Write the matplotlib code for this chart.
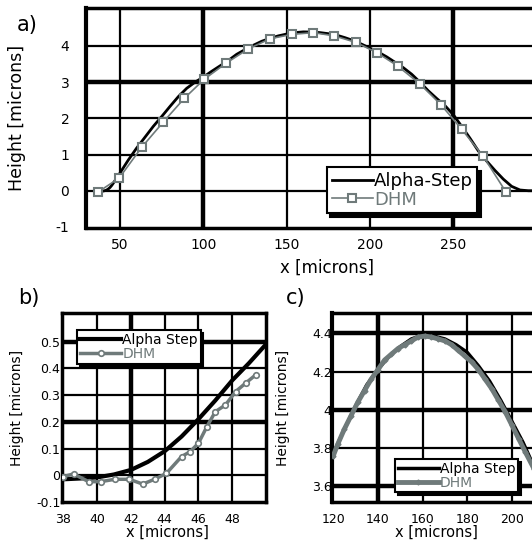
import matplotlib
matplotlib.use("Agg")
import matplotlib.pyplot as plt

plt.rcParams['axes.unicode_minus'] = False

# Alpha-Step profile (one scan, finer sampling near the left edge)
alpha_x = [35, 36, 37, 38, 39, 40, 41, 42, 43, 44, 45, 46, 47, 48, 49, 50,
           55, 60, 65, 70, 75, 80, 85, 90, 95, 100, 105, 110, 115, 120, 125,
           130, 135, 140, 145, 150, 155, 160, 165, 170, 175, 180, 185, 190,
           195, 200, 205, 210, 215, 220, 225, 230, 235, 240, 245, 250, 255,
           260, 265, 270, 275, 280, 285, 290, 295, 300, 320]
alpha_h = [-0.02, -0.02, -0.02, -0.015, -0.012, -0.008, 0.003, 0.02, 0.05,
           0.09, 0.145, 0.21, 0.28, 0.355, 0.42, 0.49,
           0.85, 1.18, 1.48, 1.78, 2.05, 2.33, 2.6, 2.83, 3.0, 3.14, 3.3,
           3.45, 3.6, 3.77, 3.9, 4.02, 4.13, 4.21, 4.28, 4.33, 4.37, 4.39,
           4.385, 4.37, 4.34, 4.3, 4.23, 4.15, 4.05, 3.94, 3.83, 3.7, 3.55,
           3.4, 3.22, 3.0, 2.76, 2.55, 2.35, 2.1, 1.78, 1.45, 1.1, 0.82,
           0.56, 0.32, 0.12, 0.02, 0.0, 0.0, 0.0]

# DHM, whole profile (panel a)
dhm_a_x = [37, 49.5, 63, 76, 88.5, 100.5, 113.5, 127, 140, 153, 166, 178.5,
           191.5, 204, 216.5, 230, 242.5, 255, 268, 281.5]
dhm_a_h = [-0.03, 0.35, 1.2, 1.9, 2.55, 3.08, 3.52, 3.92, 4.2, 4.32, 4.37,
           4.28, 4.1, 3.82, 3.45, 2.95, 2.38, 1.7, 0.95, -0.03]

# DHM, left foot (panel b)
dhm_b_x = [38.0, 38.6, 39.5, 40.2, 41.05, 41.9, 42.7, 43.4, 44.1, 45.0, 45.5,
           46.0, 46.5, 47.0, 47.6, 48.2, 48.8, 49.4]
dhm_b_h = [-0.005, 0.005, -0.024, -0.024, -0.015, -0.015, -0.033, -0.015,
           0.007, 0.07, 0.088, 0.12, 0.182, 0.238, 0.263, 0.313, 0.345, 0.376]

# DHM, top of the profile (panel c)
dhm_c_x = [120, 122, 125, 128, 131, 134, 137, 140, 143, 146, 149, 152, 155,
           158, 161, 164, 167, 170, 173, 176, 179, 182, 185, 188, 191, 194,
           197, 200, 203, 206, 210]
dhm_c_h = [3.76, 3.82, 3.9, 3.97, 4.04, 4.1, 4.16, 4.21, 4.26, 4.29, 4.32,
           4.34, 4.36, 4.38, 4.385, 4.38, 4.37, 4.36, 4.34, 4.31, 4.28, 4.25,
           4.21, 4.16, 4.11, 4.05, 3.99, 3.92, 3.85, 3.78, 3.69]

gray = '#6f7a7a'
W, H = 532, 546


def px_axes(left, top, right, bottom):
    return fig.add_axes([left / W, (H - bottom) / H, (right - left) / W,
                         (bottom - top) / H])


def draw_grid(ax, xs, ys, thick_x, thick_y, lw=1.6, lw_thick=3.2):
    for x in xs:
        ax.axvline(x, color='k', lw=lw_thick if x in thick_x else lw, zorder=1)
    for y in ys:
        ax.axhline(y, color='k', lw=lw_thick if y in thick_y else lw, zorder=1)


def style_legend(leg, lw=1.5):
    frame = leg.get_frame()
    frame.set_edgecolor('k')
    frame.set_linewidth(lw)
    frame.set_facecolor('white')
    frame.set_alpha(1)


fig = plt.figure(figsize=(W / 100, H / 100), dpi=100)

# ---- panel a ----
ax = px_axes(86, 8, 568, 228)
ax.set_xlim(29.6, 318.8)
ax.set_ylim(-1.03, 5.05)
draw_grid(ax, [50, 100, 150, 200, 250], [0, 1, 2, 3, 4],
          [100, 250], [3])
ax.plot(alpha_x, alpha_h, color='k', lw=2, label='Alpha-Step', zorder=3)
ax.plot(dhm_a_x, dhm_a_h, color=gray, lw=1.2, marker='s', ms=5.5,
        mfc='white', mec=gray, mew=1.5, label='DHM', zorder=4)
ax.set_xticks([50, 100, 150, 200, 250])
ax.set_yticks([-1, 0, 1, 2, 3, 4])
ax.tick_params(length=0, labelsize=10)
ax.tick_params(axis='y', pad=12)
ax.tick_params(axis='x', pad=7)
ax.set_xlabel('x [microns]', fontsize=12)
ax.set_ylabel('Height [microns]', fontsize=12.5)
ax.xaxis.set_label_coords(0.5, -0.14)
ax.yaxis.set_label_coords(-0.125, 0.5)
for s, w in [('left', 3), ('bottom', 2.5), ('top', 2.5), ('right', 2.5)]:
    ax.spines[s].set_linewidth(w)
leg = ax.legend(loc='lower left', bbox_to_anchor=(0.5, 0.067), fontsize=13,
                handlelength=2.3, handletextpad=0.05, borderpad=0.25,
                labelspacing=0.05, fancybox=False, borderaxespad=0,
                shadow={'color': 'k', 'alpha': 1, 'ox': 2.5, 'oy': -2.5},
                labelcolor='linecolor')
style_legend(leg)
fig.text(27 / W, 1 - 25 / H, 'a)', fontsize=15, ha='center', va='center')

# ---- panel b ----
ax = px_axes(61.7, 313, 266, 502)
ax.set_xlim(37.9, 50)
ax.set_ylim(-0.1, 0.607)
draw_grid(ax, [40, 42, 44, 46, 48], [0, 0.1, 0.2, 0.3, 0.4, 0.5],
          [42], [0.2, 0.5])
ax.plot(alpha_x, alpha_h, color='k', lw=3, label='Alpha Step', zorder=3)
ax.plot(dhm_b_x, dhm_b_h, color=gray, lw=2.5, marker='o', ms=4,
        mfc='white', mec=gray, mew=1.2, label='DHM', zorder=4)
ax.set_xticks([38, 40, 42, 44, 46, 48])
ax.set_yticks([-0.1, 0, 0.1, 0.2, 0.3, 0.4, 0.5])
ax.set_yticklabels(['-0.1', '0', '0.1', '0.2', '0.3', '0.4', '0.5'])
ax.tick_params(length=0, labelsize=9)
ax.tick_params(axis='y', pad=1)
ax.tick_params(axis='x', pad=8)
ax.set_xlabel('x [microns]', fontsize=10.5)
ax.set_ylabel('Height [microns]', fontsize=10)
ax.xaxis.set_label_coords(0.52, -0.12)
ax.yaxis.set_label_coords(-0.185, 0.5)
for s in ax.spines.values():
    s.set_linewidth(2.5)
leg = ax.legend(loc='upper left', bbox_to_anchor=(0.075, 0.91), fontsize=10,
                handlelength=3.0, handletextpad=0.05, borderpad=0.2,
                labelspacing=0.0, fancybox=False, borderaxespad=0,
                shadow={'color': 'k', 'alpha': 1, 'ox': 2, 'oy': -2},
                labelcolor='linecolor')
style_legend(leg)
fig.text(29 / W, 1 - 298 / H, 'b)', fontsize=15, ha='center', va='center')

# ---- panel c ----
ax = px_axes(331.7, 313.3, 542, 501.7)
ax.set_xlim(119.3, 213.5)
ax.set_ylim(3.52, 4.504)
draw_grid(ax, [140, 160, 180, 200], [3.6, 3.8, 4.0, 4.2, 4.4],
          [140], [3.6, 4.0, 4.4])
ax.plot(alpha_x, alpha_h, color='k', lw=2.5, label='Alpha Step', zorder=3)
ax.plot(dhm_c_x, dhm_c_h, color=gray, lw=3.5, marker='D', ms=2.5,
        mfc=gray, mec=gray, label='DHM', zorder=4)
ax.set_xticks([120, 140, 160, 180, 200])
ax.set_yticks([3.6, 3.8, 4.0, 4.2, 4.4])
ax.set_yticklabels(['3.6', '3.8', '4', '4.2', '4.4'])
ax.tick_params(length=0, labelsize=9)
ax.tick_params(axis='y', pad=0)
ax.tick_params(axis='x', pad=8)
ax.set_xlabel('x [microns]', fontsize=10.5)
ax.set_ylabel('Height [microns]', fontsize=10)
ax.xaxis.set_label_coords(0.5, -0.12)
ax.yaxis.set_label_coords(-0.2, 0.5)
for s, w in [('left', 3), ('bottom', 2.5), ('top', 2.5), ('right', 2.5)]:
    ax.spines[s].set_linewidth(w)
leg = ax.legend(loc='lower left', bbox_to_anchor=(0.3, 0.05), fontsize=10,
                handlelength=3.0, handletextpad=0.05, borderpad=0.2,
                labelspacing=0.0, fancybox=False, borderaxespad=0,
                shadow={'color': 'k', 'alpha': 1, 'ox': 2, 'oy': -2},
                labelcolor='linecolor')
style_legend(leg)
fig.text(296 / W, 1 - 298 / H, 'c)', fontsize=15, ha='center', va='center')

fig.savefig('out.png', dpi=100)
